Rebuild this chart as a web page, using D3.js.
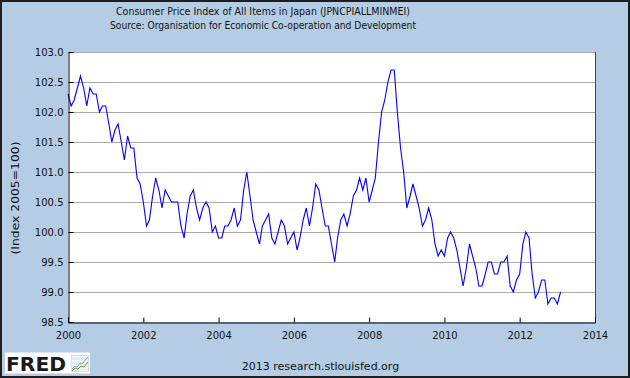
<!DOCTYPE html>
<html><head><meta charset="utf-8">
<script src="https://cdn.jsdelivr.net/npm/d3@7"></script>
<style>html,body{margin:0;padding:0;background:#b4cde4;} svg{display:block;}</style>
</head><body>
<script>
// ---- data (monthly, Jan 2000 .. Feb 2013), index 2005=100 ----
const startYear = 2000;
const cpi2000 = [102.3, 102.1, 102.2, 102.4, 102.6, 102.4, 102.1, 102.4, 102.3, 102.3, 102.0, 102.1];
const cpi2001 = [102.1, 101.8, 101.5, 101.7, 101.8, 101.5, 101.2, 101.6, 101.4, 101.4, 100.9, 100.8];
const cpi2002 = [100.5, 100.1, 100.2, 100.6, 100.9, 100.7, 100.4, 100.7, 100.6, 100.5, 100.5, 100.5];
const cpi2003 = [100.1, 99.9, 100.3, 100.6, 100.7, 100.4, 100.2, 100.4, 100.5, 100.4, 100.0, 100.1];
const cpi2004 = [99.9, 99.9, 100.1, 100.1, 100.2, 100.4, 100.1, 100.2, 100.7, 101.0, 100.6, 100.2];
const cpi2005 = [100.0, 99.8, 100.1, 100.2, 100.3, 99.9, 99.8, 100.0, 100.2, 100.1, 99.8, 99.9];
const cpi2006 = [100.0, 99.7, 99.9, 100.2, 100.4, 100.1, 100.4, 100.8, 100.7, 100.4, 100.1, 100.1];
const cpi2007 = [99.8, 99.5, 99.9, 100.2, 100.3, 100.1, 100.3, 100.6, 100.7, 100.9, 100.7, 100.9];
const cpi2008 = [100.5, 100.7, 100.9, 101.5, 102.0, 102.2, 102.5, 102.7, 102.7, 102.0, 101.4, 101.0];
const cpi2009 = [100.4, 100.6, 100.8, 100.6, 100.4, 100.1, 100.2, 100.4, 100.2, 99.8, 99.6, 99.7];
const cpi2010 = [99.6, 99.9, 100.0, 99.9, 99.7, 99.4, 99.1, 99.4, 99.8, 99.6, 99.4, 99.1];
const cpi2011 = [99.1, 99.3, 99.5, 99.5, 99.3, 99.3, 99.5, 99.5, 99.6, 99.1, 99.0, 99.2];
const cpi2012 = [99.3, 99.8, 100.0, 99.9, 99.3, 98.9, 99.0, 99.2, 99.2, 98.8, 98.9, 98.9];
const cpi2013 = [98.8, 99.0];

const xTickYears = [2000, 2002, 2004, 2006, 2008, 2010, 2012, 2014];
const yTickValues = [98.5, 99.0, 99.5, 100.0, 100.5, 101.0, 101.5, 102.0, 102.5, 103.0];

const titleLine1 = "Consumer Price Index of All Items in Japan (JPNCPIALLMINMEI)";
const titleLine2 = "Source: Organisation for Economic Co-operation and Development";
const yAxisTitle = "(Index 2005=100)";
const footerText = "2013 research.stlouisfed.org";

// ---- build series ----
const allYears = [cpi2000, cpi2001, cpi2002, cpi2003, cpi2004, cpi2005, cpi2006,
                  cpi2007, cpi2008, cpi2009, cpi2010, cpi2011, cpi2012, cpi2013];
const series = [];
allYears.forEach((arr, yi) => arr.forEach((v, mi) => {
  series.push({date: new Date(startYear + yi, mi, 1), value: v});
}));

const W = 630, H = 378;
const L = 68, R = 595, T = 52, B = 322;
const font = "'DejaVu Sans', Verdana, sans-serif";

const svg = d3.select("body").append("svg").attr("width", W).attr("height", H);

svg.append("rect").attr("x", 1).attr("y", 1).attr("width", W - 2).attr("height", H - 2)
  .attr("fill", "#b4cde4").attr("stroke", "#1e1e1e").attr("stroke-width", 2);

const x = d3.scaleTime().domain([new Date(2000, 0, 1), new Date(2014, 0, 1)]).range([L, R]);
const y = d3.scaleLinear().domain([98.5, 103.0]).range([B, T]);

// plot background
svg.append("rect").attr("x", L).attr("y", T).attr("width", R - L).attr("height", B - T).attr("fill", "#fff");

// gridlines
svg.append("g").selectAll("line").data(yTickValues.filter(v => v > 98.5)).join("line")
  .attr("x1", L).attr("x2", R)
  .attr("y1", d => Math.round(y(d)) + 0.5).attr("y2", d => Math.round(y(d)) + 0.5)
  .attr("stroke", "#aaaaaa").attr("stroke-width", 1);

// right border
svg.append("line").attr("x1", R + 0.5).attr("x2", R + 0.5).attr("y1", T).attr("y2", B)
  .attr("stroke", "#444").attr("stroke-width", 1);

// series line
const line = d3.line().x(d => x(d.date)).y(d => y(d.value));
svg.append("path").datum(series).attr("d", line)
  .attr("fill", "none").attr("stroke", "#0000ff").attr("stroke-width", 1.1)
  .attr("stroke-linejoin", "miter");

// axes
const yAxis = d3.axisLeft(y).tickValues(yTickValues).tickFormat(d3.format(".1f")).tickSize(-5).tickPadding(10);
const gy = svg.append("g").attr("transform", `translate(${L + 0.5},0)`).call(yAxis);
gy.select(".domain").attr("stroke", "#000");
gy.selectAll(".tick line").attr("stroke", "#000");
gy.selectAll(".tick text").attr("font-family", font).attr("font-size", 10).attr("fill", "#111").attr("dy", "0.36em").attr("x", -5);

const xAxis = d3.axisBottom(x).tickValues(xTickYears.map(yv => new Date(yv, 0, 1)))
  .tickFormat(d3.timeFormat("%Y")).tickSize(-5).tickPadding(6);
const gx = svg.append("g").attr("transform", `translate(0,${B + 0.5})`).call(xAxis);
gx.select(".domain").attr("stroke", "#000");
gx.selectAll(".tick line").attr("stroke", "#000");
gx.selectAll(".tick text").attr("font-family", font).attr("font-size", 10).attr("fill", "#111").attr("y", 9).attr("dy", "0.71em");

// titles
svg.append("text").attr("x", 263).attr("y", 14.5).attr("text-anchor", "middle")
  .attr("font-family", font).attr("font-size", 10).attr("fill", "#111")
  .attr("textLength", 294).attr("lengthAdjust", "spacingAndGlyphs").text(titleLine1);
svg.append("text").attr("x", 263).attr("y", 29).attr("text-anchor", "middle")
  .attr("font-family", font).attr("font-size", 10).attr("fill", "#111")
  .attr("textLength", 306).attr("lengthAdjust", "spacingAndGlyphs").text(titleLine2);

// y-axis title
svg.append("text").attr("transform", "translate(19,198) rotate(-90)").attr("text-anchor", "middle")
  .attr("font-family", font).attr("font-size", 10.5).attr("fill", "#111")
  .attr("textLength", 113).attr("lengthAdjust", "spacingAndGlyphs").text(yAxisTitle);

// footer
svg.append("text").attr("x", 320.5).attr("y", 370).attr("text-anchor", "middle")
  .attr("font-family", font).attr("font-size", 11).attr("fill", "#111").text(footerText);

// FRED logo
const logo = svg.append("g");
logo.append("rect").attr("x", 5).attr("y", 352.5).attr("width", 85).attr("height", 21).attr("fill", "#fff");
logo.append("text").attr("x", 6).attr("y", 371).attr("font-family", font).attr("font-weight", "bold")
  .attr("font-size", 20).attr("fill", "#1a1a1a").attr("textLength", 60).attr("lengthAdjust", "spacingAndGlyphs").text("FRED");
logo.append("rect").attr("x", 71.5).attr("y", 355.5).attr("width", 17).attr("height", 16).attr("fill", "#eef1f4").attr("stroke", "#c8ccd0").attr("stroke-width", 0.6);
[359, 363, 367].forEach(gyv => logo.append("line").attr("x1", 72).attr("x2", 88).attr("y1", gyv).attr("y2", gyv).attr("stroke", "#d5d8dc").attr("stroke-width", 0.6));
logo.append("polyline").attr("points", "72,369 75,366 77,367 80,363 82,364 85,360 88,357")
  .attr("fill", "none").attr("stroke", "#7ea6d4").attr("stroke-width", 1);
logo.append("polyline").attr("points", "72,371 75,368 78,369 81,366 84,367 88,362")
  .attr("fill", "none").attr("stroke", "#6fa23c").attr("stroke-width", 1);
</script>
</body></html>
